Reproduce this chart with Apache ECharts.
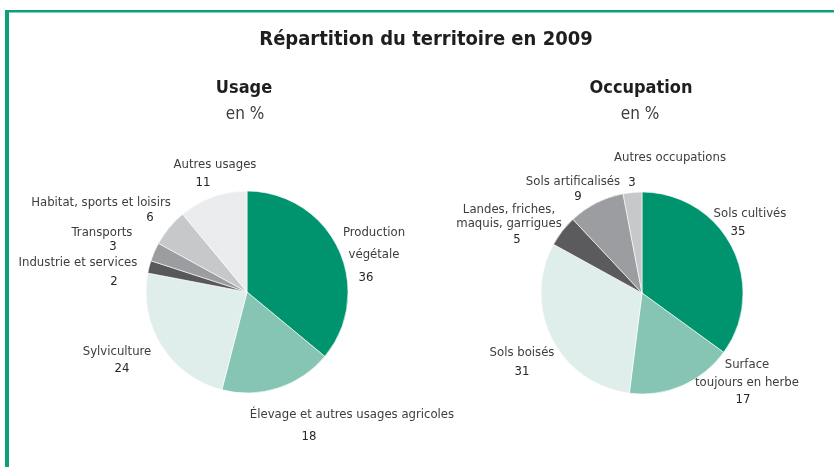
<!DOCTYPE html>
<html>
<head>
<meta charset="utf-8">
<script src="https://cdn.jsdelivr.net/npm/echarts@6/dist/echarts.min.js"></script>
<style>
  html, body { margin: 0; padding: 0; background: #ffffff; }
  #chart { width: 834px; height: 467px; }
</style>
</head>
<body>
<div id="chart"></div>
<script>
// Répartition du territoire en 2009 — usage et occupation, en %
const usageNames = [
  'Production\nvégétale',
  'Élevage et autres usages agricoles',
  'Sylviculture',
  'Industrie et services',
  'Transports',
  'Habitat, sports et loisirs',
  'Autres usages'
];
const usageValues = [36, 18, 24, 2, 3, 6, 11];

const occupationNames = [
  'Sols cultivés',
  'Surface\ntoujours en herbe',
  'Sols boisés',
  'Landes, friches,\nmaquis, garrigues',
  'Sols artificalisés',
  'Autres occupations'
];
const occupationValues = [35, 17, 31, 5, 9, 3];

const usageColors = ['#00946e', '#86c4b3', '#dfeeea', '#58585b', '#9c9da0', '#c7c8ca', '#ebecee'];
const occupationColors = ['#00946e', '#86c4b3', '#dfeeea', '#5b5b5e', '#9c9da0', '#c7c8ca'];

// label anchors (name centre, value centre, line height) for each slice
const usageLabelPos = [
  { n: [374, 244], v: [366, 278], lh: 22 },
  { n: [352, 415], v: [309, 437], lh: 16 },
  { n: [117, 352], v: [122, 369], lh: 16 },
  { n: [78, 263],  v: [114, 282], lh: 16 },
  { n: [102, 233], v: [113, 247], lh: 16 },
  { n: [101, 203], v: [150, 218], lh: 16 },
  { n: [215, 165], v: [203, 183], lh: 16 }
];
const occupationLabelPos = [
  { n: [750, 214], v: [738, 232], lh: 16 },
  { n: [747, 374], v: [743, 400], lh: 18 },
  { n: [522, 353], v: [522, 372], lh: 16 },
  { n: [509, 216.5], v: [517, 240], lh: 13.5 },
  { n: [573, 182], v: [578, 197], lh: 16 },
  { n: [670, 158], v: [632, 183], lh: 16 }
];

const FONT = '"Liberation Sans Narrow", "DejaVu Sans Condensed", "Liberation Sans", sans-serif';
const GREEN = '#0d9f7b';

function pieSeries(names, values, colors, center) {
  return {
    type: 'pie',
    center: center,
    radius: 101,
    startAngle: 90,
    clockwise: true,
    silent: true,
    animation: false,
    label: { show: false },
    labelLine: { show: false },
    itemStyle: { borderColor: '#ffffff', borderWidth: 0.6 },
    data: names.map((n, i) => ({ name: n, value: values[i], itemStyle: { color: colors[i] } }))
  };
}

function labelGraphics(names, values, pos) {
  const out = [];
  names.forEach((n, i) => {
    out.push({
      type: 'text', x: pos[i].n[0], y: pos[i].n[1],
      style: { text: n, fill: '#3d3d3d', font: '13px ' + FONT, align: 'center', verticalAlign: 'middle', lineHeight: pos[i].lh }
    });
    out.push({
      type: 'text', x: pos[i].v[0], y: pos[i].v[1],
      style: { text: String(values[i]), fill: '#262626', font: '13px ' + FONT, align: 'center', verticalAlign: 'middle' }
    });
  });
  return out;
}

const chart = echarts.init(document.getElementById('chart'), null, { renderer: 'canvas' });

chart.setOption({
  backgroundColor: '#ffffff',
  animation: false,
  series: [
    pieSeries(usageNames, usageValues, usageColors, [247, 292]),
    pieSeries(occupationNames, occupationValues, occupationColors, [642, 293])
  ],
  graphic: [
    // frame
    { type: 'rect', shape: { x: 5, y: 10, width: 829, height: 2.5 }, style: { fill: GREEN }, silent: true },
    { type: 'rect', shape: { x: 5, y: 10, width: 4, height: 457 }, style: { fill: GREEN }, silent: true },
    // titles
    { type: 'text', x: 426, y: 40, style: { text: 'Répartition du territoire en 2009', fill: '#1e1e1e', font: 'bold 20px ' + FONT, align: 'center', verticalAlign: 'middle' } },
    { type: 'text', x: 244, y: 88, style: { text: 'Usage', fill: '#1e1e1e', font: 'bold 18px ' + FONT, align: 'center', verticalAlign: 'middle' } },
    { type: 'text', x: 245, y: 115, style: { text: 'en %', fill: '#3d3d3d', font: '17px ' + FONT, align: 'center', verticalAlign: 'middle' } },
    { type: 'text', x: 641, y: 88, style: { text: 'Occupation', fill: '#1e1e1e', font: 'bold 18px ' + FONT, align: 'center', verticalAlign: 'middle' } },
    { type: 'text', x: 640, y: 115, style: { text: 'en %', fill: '#3d3d3d', font: '17px ' + FONT, align: 'center', verticalAlign: 'middle' } }
  ].concat(labelGraphics(usageNames, usageValues, usageLabelPos))
   .concat(labelGraphics(occupationNames, occupationValues, occupationLabelPos))
});
</script>
</body>
</html>
